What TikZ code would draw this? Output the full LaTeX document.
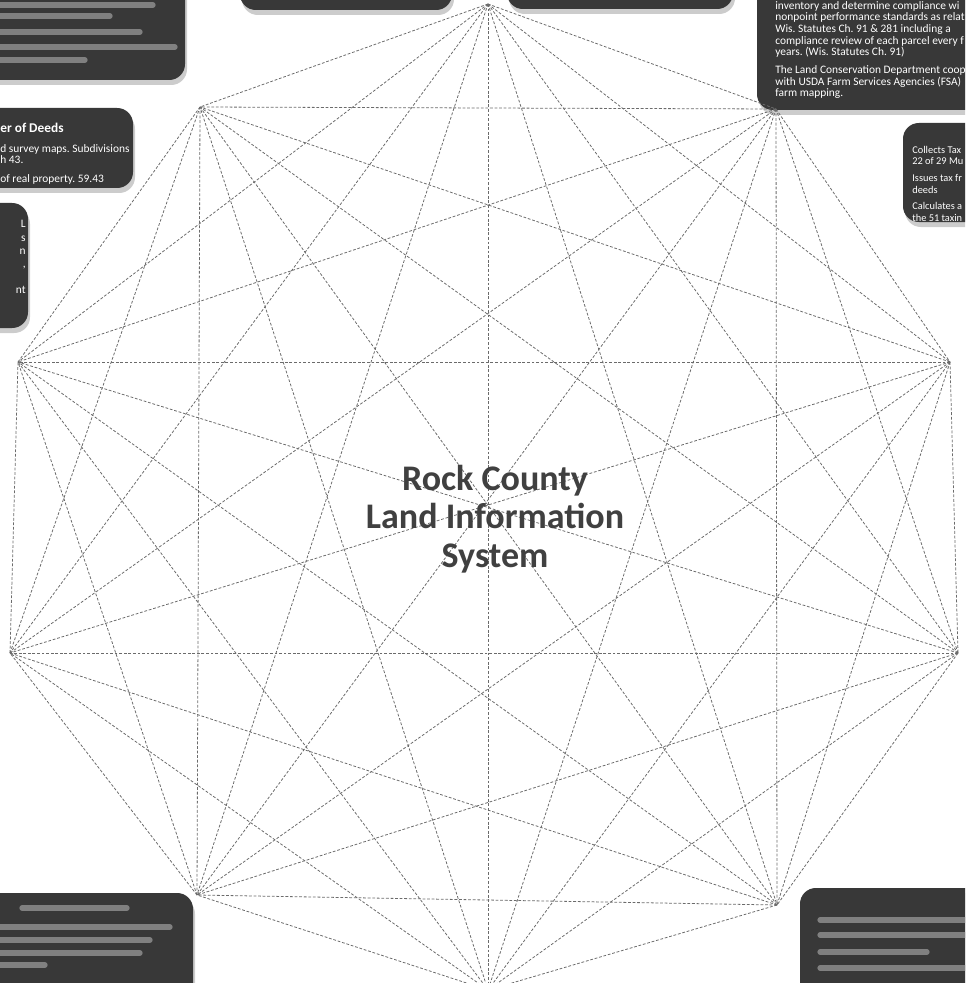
\documentclass[tikz,border=0pt]{standalone}
\usepackage{fontspec}
\setmainfont{Carlito}
\frenchspacing
\begin{document}
\begin{tikzpicture}[x=0.02cm,y=-0.02cm,
    link/.style={dash pattern=on 1.6pt off 1pt,line width=0.45pt,black!58},
    infobox/.style={fill=black!78,rounded corners=9pt},
    boxshadow/.style={fill=black!20,rounded corners=9pt},
    boxtext/.style={white,font=\fontsize{6.5}{6.6}\selectfont,inner sep=0pt,align=left},
    blurline/.style={line width=3pt,line cap=round,black!50}]
    \useasboundingbox (0,0) rectangle (965,983);
    \clip (0,0) rectangle (965,983);
    \foreach \xa/\ya/\xb/\yb in {-30/-30/185/80, 240/-30/452/10, 507/-30/733/9,
        757/-30/1000/110, -30/108/133/188, -30/203/28/328, 903/123/1000/222,
        -30/893/193/1020, 800/888/1000/1020} {
      \fill[boxshadow] (\xa+2,\ya+5) rectangle (\xb+2,\yb+5);
      \fill[infobox] (\xa,\ya) rectangle (\xb,\yb);
    }
    \foreach \xa/\xb/\y in {0/153/5, 0/110/16, 0/140/32, 0/175/47, 0/85/60,
        22/127/908, 0/170/927, 0/150/940, 0/140/953, 0/45/965,
        820/975/920, 820/975/935, 820/927/952, 820/975/968}
      \draw[blurline] (\xa,\y) -- (\xb,\y);
    \node[boxtext,anchor=north west] (soil) at (775,1)
      {inventory and determine compliance wi\\
       nonpoint performance standards as relat\\
       Wis. Statutes Ch. 91 \& 281 including a\\
       compliance review of each parcel every f\\
       years. (Wis. Statutes Ch. 91)\\[3.5pt]
       The Land Conservation Department coop\\
       with USDA Farm Services Agencies (FSA)\\
       farm mapping.};
    \node[white,font=\fontsize{7.6}{8}\selectfont\bfseries,inner sep=0pt,anchor=base west]
      (deeds) at (0,133) {er of Deeds};
    \node[boxtext,anchor=north west] (deedstext) at (0,144)
      {d survey maps. Subdivisions\\ h 43.\\[4pt] of real property. 59.43};
    \node[boxtext,align=right,anchor=north east] (cut) at (26,220)
      {L\\[1pt] s\\[1pt] n\\[1pt] ,\\[8pt] nt};
    \node[boxtext,font=\fontsize{5.9}{6.5}\selectfont,anchor=north west] (treasurer) at (912,146)
      {Collects Tax\\ 22 of 29 Mu\\[3pt] Issues tax fr\\ deeds\\[3pt]
       Calculates a\\ the 51 taxin};
    \foreach \i/\x/\y in {0/488/4, 1/776/109, 2/950/362, 3/958/653, 4/777/905,
        5/488/990, 6/197/895, 7/10/653, 8/18/362, 9/200/107}
      \coordinate (v\i) at (\x,\y);
    \foreach \i in {0,...,8} {
      \pgfmathtruncatemacro\nexti{\i+1}
      \foreach \j in {\nexti,...,9}
        \draw[link] (v\i) -- (v\j);
    }
    \node[font=\fontsize{20.5}{21.8}\selectfont\bfseries,text=black!75,align=center]
      (lis) at (495,519) {Rock County\\Land Information\\System};
\end{tikzpicture}
\end{document}
